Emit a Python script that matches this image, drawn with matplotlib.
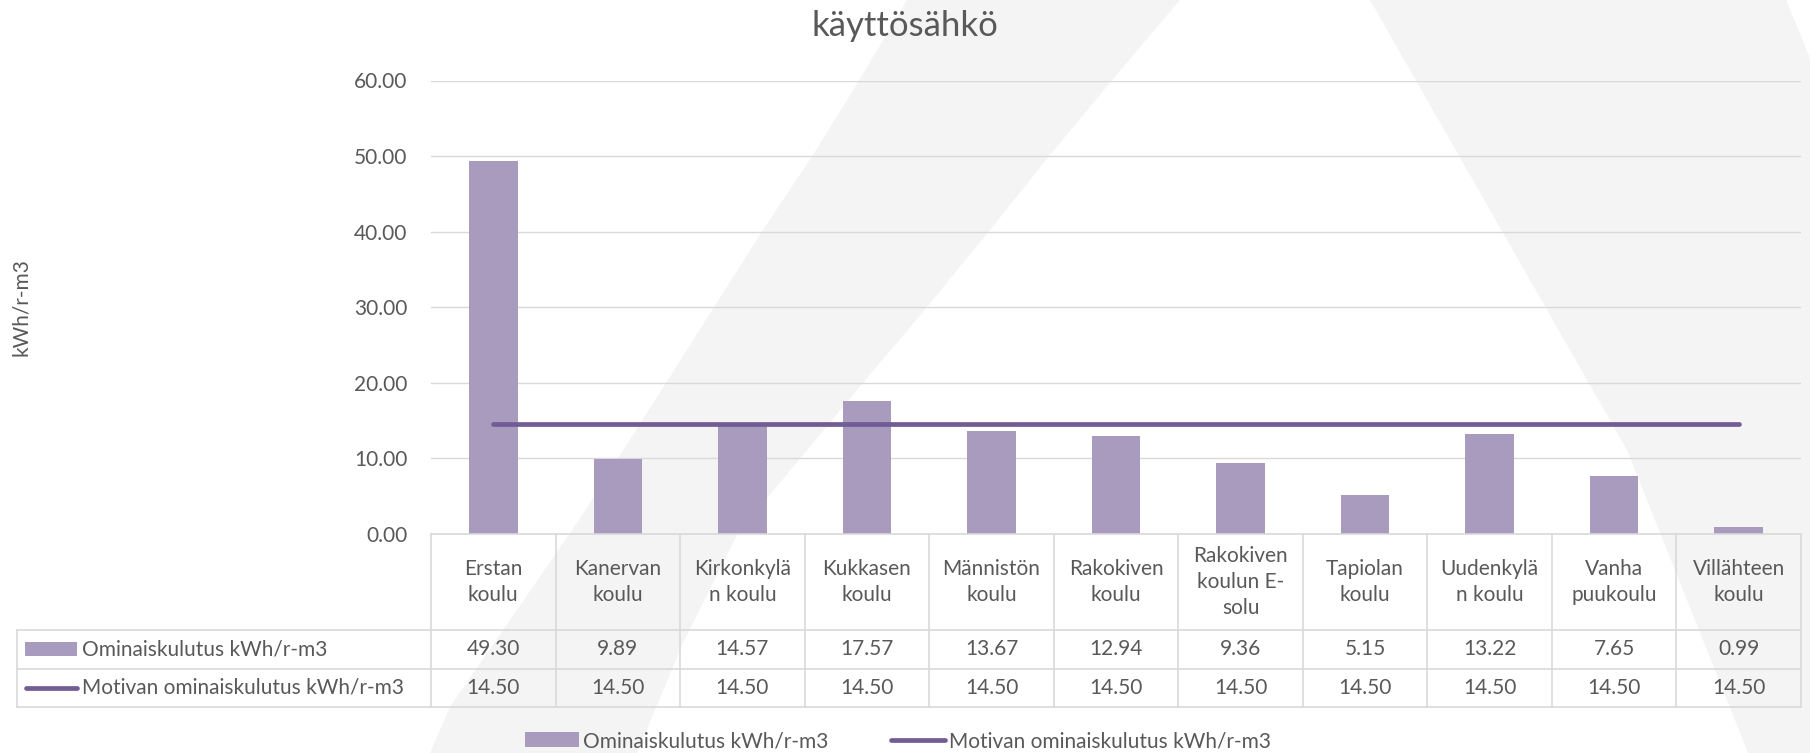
import matplotlib
matplotlib.use("Agg")
import matplotlib.pyplot as plt
from matplotlib.patches import Polygon, Rectangle
from matplotlib.lines import Line2D
import matplotlib.ticker as mticker

# ---------------- data ----------------
title = "käyttösähkö"
ylabel = "kWh/r-m3"
categories = ["Erstan\nkoulu", "Kanervan\nkoulu", "Kirkonkylä\nn koulu", "Kukkasen\nkoulu",
              "Männistön\nkoulu", "Rakokiven\nkoulu", "Rakokiven\nkoulun E-\nsolu",
              "Tapiolan\nkoulu", "Uudenkylä\nn koulu", "Vanha\npuukoulu", "Villähteen\nkoulu"]
series_bar_name = "Ominaiskulutus kWh/r-m3"
series_line_name = "Motivan ominaiskulutus kWh/r-m3"
bar_values = [49.30, 9.89, 14.57, 17.57, 13.67, 12.94, 9.36, 5.15, 13.22, 7.65, 0.99]
line_values = [14.50, 14.50, 14.50, 14.50, 14.50, 14.50, 14.50, 14.50, 14.50, 14.50, 14.50]
y_ticks = [0, 10, 20, 30, 40, 50, 60]

# ---------------- style ----------------
plt.rcParams['font.family'] = ['Lato', 'DejaVu Sans']
TXT = '#595959'
BAR = '#a99bbd'
LINE = '#715c93'
GRID = '#d9d9d9'
WM = '#f4f4f4'
FS = 15

W, H = 1810, 753
fig = plt.figure(figsize=(W / 100, H / 100), dpi=100)
fig.patch.set_facecolor('white')

def fx(px):
    return px / W

def fy(py):
    return 1 - py / H

# background watermark (light "A" shape)
left_leg = [(907, 0), (860, 79), (813, 155), (763, 230), (579, 520), (450, 707), (430, 753),
            (637, 753), (683, 643), (738, 533), (863, 383), (927, 307), (990, 230),
            (1050, 155), (1113, 79), (1180, 0)]
right_leg = [(1370, 0), (1786, 0), (1810, 58), (1810, 753), (1748, 753), (1747, 750),
             (1667, 550), (1627, 450)]
for poly in (left_leg, right_leg):
    fig.add_artist(Polygon([(fx(a), fy(b)) for a, b in poly], closed=True,
                           transform=fig.transFigure, facecolor=WM, edgecolor='none', zorder=0))

# ---------------- main axes ----------------
PL, PR, PT, PB = 431, 1801, 80.5, 534
ax = fig.add_axes([fx(PL), fy(PB), (PR - PL) / W, (PB - PT) / H])
ax.set_facecolor('none')
x = list(range(len(categories)))
ax.bar(x, bar_values, width=0.39, color=BAR, zorder=2)
ax.plot(x, line_values, color=LINE, lw=3.4, solid_capstyle='round', zorder=3)
ax.set_xlim(-0.5, len(categories) - 0.5)
ax.set_ylim(0, 60)
ax.set_yticks(y_ticks)
ax.yaxis.set_major_formatter(mticker.FormatStrFormatter('%.2f'))
ax.set_xticks([])
ax.tick_params(axis='y', length=0, pad=17, labelsize=FS, labelcolor=TXT)
for s in ax.spines.values():
    s.set_visible(False)
ax.yaxis.grid(True, color=GRID, lw=1.0, zorder=1)
ax.set_axisbelow(True)

# ---------------- data table ----------------
TL, TB = 17, 707
colpx = (PR - PL) / len(categories)
x_left = -0.5 - (PL - TL) / colpx
tax = fig.add_axes([fx(TL), fy(TB), (PR - TL) / W, (TB - PB) / H])
tax.set_facecolor('none')
tax.set_xlim(x_left, len(categories) - 0.5)
tax.set_ylim(TB - PB, 0)
tax.axis('off')

def tx(px):
    return x_left + (px - TL) / colpx

r1, r2, r3 = 96, 134.5, 173
tkw = dict(color=GRID, lw=1.2, clip_on=False, zorder=2)
for yy in (r1, r2, r3):
    tax.plot([x_left, len(categories) - 0.5], [yy, yy], **tkw)
tax.plot([-0.5, len(categories) - 0.5], [0, 0], **tkw)
for k in range(len(categories) + 1):
    tax.plot([k - 0.5, k - 0.5], [0, r3], **tkw)
tax.plot([x_left, x_left], [r1, r3], **tkw)

for i, c in enumerate(categories):
    tax.text(i, r1 / 2, c, ha='center', va='center', fontsize=FS, color=TXT,
             linespacing=1.35, clip_on=False)
    tax.text(i, (r1 + r2) / 2, f"{bar_values[i]:.2f}", ha='center', va='center',
             fontsize=FS, color=TXT, clip_on=False)
    tax.text(i, (r2 + r3) / 2, f"{line_values[i]:.2f}", ha='center', va='center',
             fontsize=FS, color=TXT, clip_on=False)

# row keys
tax.add_patch(Rectangle((tx(25), (r1 + r2) / 2 - 7), tx(77) - tx(25), 14,
                        facecolor=BAR, edgecolor='none', clip_on=False))
tax.plot([tx(26), tx(77)], [(r2 + r3) / 2, (r2 + r3) / 2], color=LINE, lw=3.4,
         solid_capstyle='round', clip_on=False)
tax.text(tx(82), (r1 + r2) / 2, series_bar_name, ha='left', va='center',
         fontsize=FS, color=TXT, clip_on=False)
tax.text(tx(82), (r2 + r3) / 2, series_line_name, ha='left', va='center',
         fontsize=FS, color=TXT, clip_on=False)

# ---------------- title, y label, legend ----------------
fig.text(fx(905), fy(26), title, ha='center', va='center', fontsize=25, color=TXT)
fig.text(fx(21), fy(307), ylabel, ha='center', va='center', rotation=90,
         fontsize=FS, color=TXT)

handles = [Rectangle((0, 0), 1, 1, facecolor=BAR, edgecolor='none'),
           Line2D([0], [0], color=LINE, lw=3.4, solid_capstyle='round')]
fig.legend(handles, [series_bar_name, series_line_name], loc='center',
           bbox_to_anchor=(fx(898), fy(741)), ncol=2, frameon=False,
           fontsize=FS, labelcolor=TXT, handlelength=2.6, handleheight=0.7,
           handletextpad=0.2, columnspacing=3.0, borderpad=0)

fig.savefig('out.png', dpi=100, facecolor='white')
